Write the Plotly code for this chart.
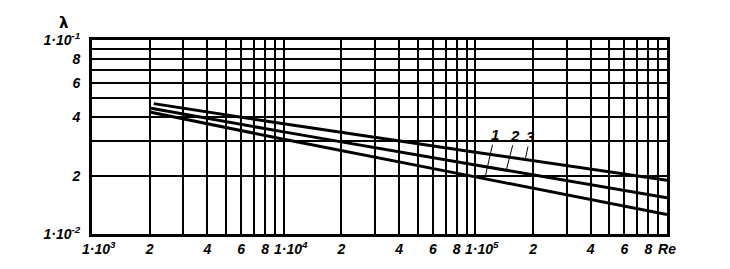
import numpy as np
import plotly.graph_objects as go

# Data (Re, lambda)
re_pts = [2000, 10000, 100000, 1000000]
re_pts3 = [2100, 10000, 100000, 1000000]
lam_1 = [0.0425, 0.0308, 0.0197, 0.0126]
lam_2 = [0.0446, 0.0336, 0.0227, 0.01535]
lam_3 = [0.0470, 0.0370, 0.0264, 0.0189]

curve_names = ["1", "2", "3"]
label_re = [1.12e5, 1.45e5, 1.82e5]

decade_exps = [3, 4, 5]
x_tickvals = [m * 10 ** e for e in decade_exps for m in range(1, 10)] + [1e6]
x_ticktext = []
for e in decade_exps:
    for m in range(1, 10):
        if m in (2, 4, 6, 8):
            x_ticktext.append(str(m))
        else:
            x_ticktext.append("")
x_ticktext.append("Re")

y_tickvals = [m * 0.01 for m in range(1, 10)] + [0.1]
y_ticktext = ["1·10<sup>-2</sup>", "2", "", "4", "", "6", "", "8", "", "1·10<sup>-1</sup>"]

font_family = "Liberation Sans Narrow, Liberation Sans, Arial"
tick_font = dict(family=font_family, size=14, color="black", style="italic", weight="bold")

fig = go.Figure()
series = [(re_pts, lam_1), (re_pts, lam_2), (re_pts3, lam_3)]
for (xs, ys), name in zip(series, curve_names):
    fig.add_trace(go.Scatter(x=xs, y=ys, mode="lines", name=name,
                             line=dict(color="black", width=3), showlegend=False))

# curve labels with leader lines
offsets = [(10, -44), (9, -35), (5, -23)]
for (xs, ys), name, rx, (ax, ay) in zip(series, curve_names, label_re, offsets):
    ly = 10 ** np.interp(np.log10(rx), np.log10(xs), np.log10(ys))
    fig.add_annotation(x=np.log10(rx), y=np.log10(ly), text=name, showarrow=True,
                       arrowhead=0, arrowwidth=1, arrowcolor="black", ax=ax, ay=ay,
                       standoff=0, startstandoff=0,
                       font=dict(family=font_family, size=15, color="black",
                                 style="italic", weight="bold"))

# decade labels on the x axis (shifted right of their grid line, as in the original)
for e in decade_exps:
    fig.add_annotation(x=e, y=0, xref="x", yref="paper", text="1·10<sup>%d</sup>" % e,
                       showarrow=False, xanchor="center", yanchor="top",
                       xshift=7, yshift=-3, font=tick_font)

fig.add_annotation(xref="paper", yref="paper", x=-0.049, y=1.088, text="<b>λ</b>",
                   xanchor="center", yanchor="middle",
                   showarrow=False, font=dict(family="DejaVu Sans", size=15, color="black"))

axis_common = dict(showgrid=True, gridcolor="black", gridwidth=2, showline=True,
                   linecolor="black", linewidth=3, mirror=True, zeroline=False, ticks="",
                   automargin=False, tickangle=0, tickfont=tick_font)

fig.update_xaxes(type="log", range=[3, 6], tickmode="array", tickvals=x_tickvals,
                 ticktext=x_ticktext, **axis_common)
fig.update_yaxes(type="log", range=[-2, -1], tickmode="array", tickvals=y_tickvals,
                 ticktext=y_ticktext, ticklabelstandoff=6, **axis_common)

fig.update_layout(width=730, height=269, margin=dict(l=92, r=63, t=40, b=35),
                  plot_bgcolor="white", paper_bgcolor="white")

fig.write_html("out.html")
